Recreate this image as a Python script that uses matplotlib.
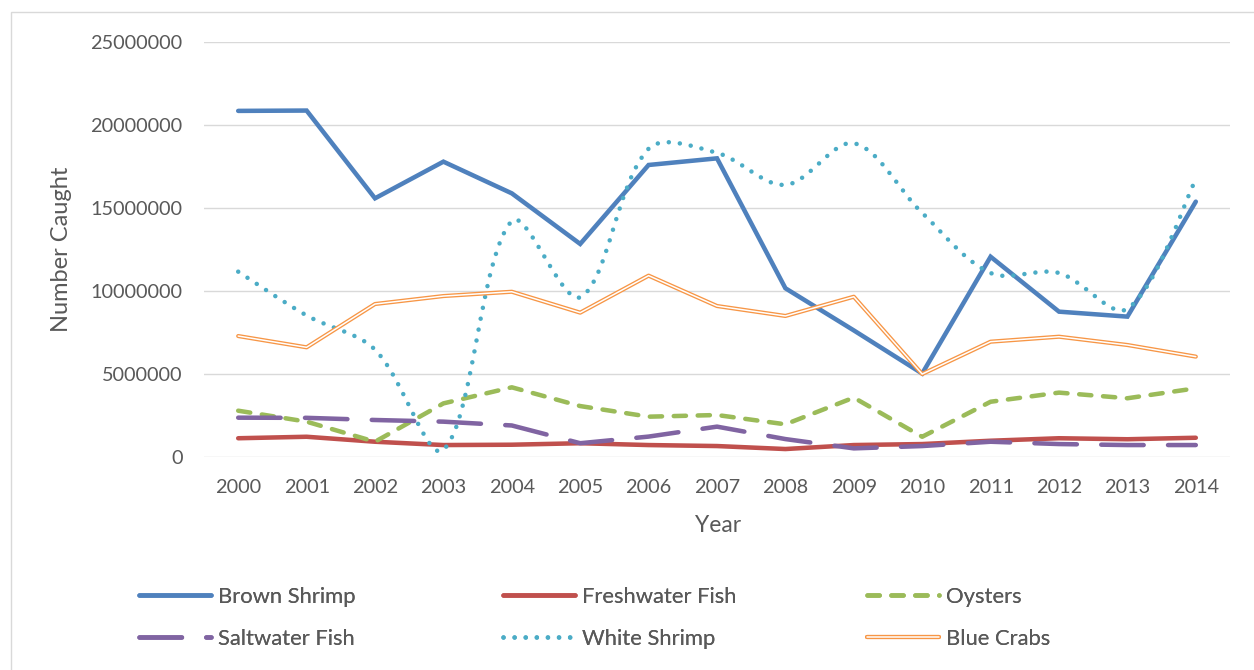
import matplotlib
matplotlib.use("Agg")
import matplotlib.pyplot as plt
from matplotlib.path import Path
from matplotlib.patches import PathPatch, Rectangle
import matplotlib.patheffects as pe
import numpy as np

years = ["2000", "2001", "2002", "2003", "2004", "2005", "2006", "2007",
         "2008", "2009", "2010", "2011", "2012", "2013", "2014"]

brown_shrimp = [20830000, 20850000, 15560000, 17770000, 15860000, 12810000, 17570000,
                17970000, 10140000, 7600000, 5000000, 12040000, 8730000, 8430000, 15360000]
freshwater_fish = [1100000, 1190000, 890000, 690000, 710000, 800000, 690000, 630000,
                   450000, 690000, 750000, 950000, 1100000, 1040000, 1130000]
oysters = [2760000, 2100000, 890000, 3200000, 4170000, 3040000, 2400000, 2500000,
           1940000, 3550000, 1190000, 3300000, 3850000, 3510000, 4110000]
saltwater_fish = [2340000, 2330000, 2200000, 2100000, 1870000, 800000, 1200000, 1800000,
                  1050000, 490000, 630000, 890000, 750000, 690000, 690000]
white_shrimp = [11140000, 8500000, 6440000, 400000, 14200000, 9600000, 18550000, 18300000,
                16370000, 18880000, 14680000, 11060000, 11060000, 8900000, 16700000]
blue_crabs = [7260000, 6580000, 9190000, 9670000, 9930000, 8670000, 10900000, 9070000,
              8470000, 9630000, 4970000, 6920000, 7220000, 6720000, 6020000]

y_ticks = [0, 5000000, 10000000, 15000000, 20000000, 25000000]

FONT = ["Lato", "DejaVu Sans"]
plt.rcParams["font.family"] = FONT
TXT = "#595959"
GRID = "#D9D9D9"

fig = plt.figure(figsize=(12.54, 6.70), dpi=100)
fig.patch.set_facecolor("white")
fig.add_artist(Rectangle((11 / 1254, -0.02), 1.2, 1 - 12 / 670 + 0.02,
                         transform=fig.transFigure, fill=False, ec=GRID, lw=1.0))

ax = fig.add_axes([204 / 1254, 1 - 456.5 / 670, 1026 / 1254, 414.8 / 670])
x = np.arange(len(years))
ax.set_xlim(-0.5, len(years) - 0.5)
ax.set_ylim(0, 25000000)

LW = 3.25
ax.plot(x, brown_shrimp, color="#4F81BD", lw=LW, solid_capstyle="round",
        solid_joinstyle="miter", label="Brown Shrimp", zorder=3)
ax.plot(x, freshwater_fish, color="#C0504D", lw=LW, solid_capstyle="round",
        label="Freshwater Fish", zorder=3)
ax.plot(x, oysters, color="#9BBB59", lw=LW, linestyle=(0, (2.7, 2.6)),
        dash_capstyle="round", label="Oysters", zorder=3)
ax.plot(x, saltwater_fish, color="#8064A2", lw=LW, linestyle=(0, (9.4, 5.4)),
        dash_capstyle="round", label="Saltwater Fish", zorder=3)

# White shrimp: Excel-style smoothed curve through the data points
# (control points computed in display space, weighted by segment lengths)
pts = ax.transData.transform(np.column_stack([x.astype(float),
                                              np.asarray(white_shrimp, float)]))
n = len(pts)
verts = [pts[0]]
codes = [Path.MOVETO]
T = 1.0 / 3.0
for i in range(n - 1):
    p0 = pts[i - 1] if i > 0 else pts[i]
    p1 = pts[i]
    p2 = pts[i + 1]
    p3 = pts[i + 2] if i + 2 < n else pts[i + 1]
    d01 = np.hypot(*(p1 - p0))
    d12 = np.hypot(*(p2 - p1))
    d23 = np.hypot(*(p3 - p2))
    f1 = d12 / (d01 + d12) if d01 > 0 else 0.5
    f2 = d12 / (d12 + d23) if d23 > 0 else 0.5
    c1 = p1 + (p2 - p0) * T * f1
    c2 = p2 - (p3 - p1) * T * f2
    verts += [c1, c2, p2]
    codes += [Path.CURVE4] * 3
verts = ax.transData.inverted().transform(np.array(verts))
ws_patch = PathPatch(Path(verts, codes), fill=False, ec="#4BACC6", lw=LW,
                     linestyle=(0, (0.01, 2.45)), capstyle="round", zorder=3)
ax.add_patch(ws_patch)
ax.plot([], [], color="#4BACC6", lw=LW, linestyle=(0, (0.01, 2.45)),
        dash_capstyle="round", label="White Shrimp")

ax.plot(x, blue_crabs, color="white", lw=1.1, solid_capstyle="round",
        path_effects=[pe.Stroke(linewidth=3.0, foreground="#F79646", capstyle="round"), pe.Normal()],
        label="Blue Crabs", zorder=3)

ax.set_xticks(x)
ax.set_xticklabels(years)
ax.set_yticks(y_ticks)
ax.set_yticklabels([str(v) for v in y_ticks])
ax.tick_params(axis="both", length=0, labelsize=14.3, labelcolor=TXT)
ax.tick_params(axis="y", pad=15.5)
ax.tick_params(axis="x", pad=16)
ax.grid(axis="y", color=GRID, lw=1.0)
ax.set_axisbelow(True)
for s in ax.spines.values():
    s.set_visible(False)

ax.set_ylabel("Number Caught", fontsize=17, color=TXT)
ax.yaxis.label.set_va("center")
ax.yaxis.set_label_coords((62 - 204) / 1026, 0.5)
ax.set_xlabel("Year", fontsize=16.5, color=TXT)
ax.xaxis.label.set_va("center")
ax.xaxis.set_label_coords((718 - 204) / 1026, (456.5 - 525) / 414.8)

handles, labels = ax.get_legend_handles_labels()
hmap = dict(zip(labels, handles))
columns = [["Brown Shrimp", "Saltwater Fish"],
           ["Freshwater Fish", "White Shrimp"],
           ["Oysters", "Blue Crabs"]]
col_x = [139, 503, 867]
for cx, col in zip(col_x, columns):
    leg = fig.legend([hmap[c] for c in col], col, loc="upper left",
                     bbox_to_anchor=(cx / 1254, 1 - 587 / 670),
                     frameon=False, fontsize=15.8, handlelength=3.3,
                     handletextpad=0.28, labelspacing=1.0, borderpad=0,
                     borderaxespad=0, labelcolor=TXT)
    fig.add_artist(leg)

fig.savefig("out.png", dpi=100, facecolor="white")
